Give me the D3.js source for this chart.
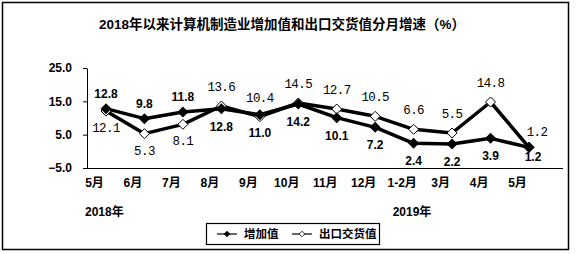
<!DOCTYPE html>
<html><head><meta charset="utf-8">
<script src="https://cdn.jsdelivr.net/npm/d3@7"></script>
<style>
html,body{margin:0;padding:0;background:#fff;}
svg{display:block;}
</style></head>
<body>
<script>
const title = "2018年以来计算机制造业增加值和出口交货值分月增速（%）";
const categories = ["5月","6月","7月","8月","9月","10月","11月","12月","1-2月","3月","4月","5月"];
const yearLabels = [{cat:0, text:"2018年"}, {cat:8, text:"2019年"}];
const addedValue = [12.8, 9.8, 11.8, 12.8, 11.0, 14.2, 10.1, 7.2, 2.4, 2.2, 3.9, 1.2];
const exportValue = [12.1, 5.3, 8.1, 13.6, 10.4, 14.5, 12.7, 10.5, 6.6, 5.5, 14.8, 1.2];
const addedLabelSide = ["above","above","above","below","below","below","below","below","below","below","below","below"];
const exportLabelSide = ["below","below","below","above","above","above","above","above","above","above","above","above"];
const yTicks = [-5, 5, 15, 25];
const seriesNames = ["增加值", "出口交货值"];

const W = 576, H = 254;
const svg = d3.select("body").append("svg").attr("width", W).attr("height", H);

// outer frame
svg.append("rect").attr("x", 2.5).attr("y", 2.5).attr("width", 566).attr("height", 247)
  .attr("fill", "#fff").attr("stroke", "#000").attr("stroke-width", 1.5);

const sansBold = "'Liberation Sans','Noto Sans CJK SC',Arial,sans-serif";

svg.append("text").attr("x", 282).attr("y", 24).attr("text-anchor", "middle")
  .attr("dominant-baseline", "central")
  .attr("font-family", sansBold).attr("font-weight", "bold").attr("font-size", 13.5)
  .text(title);

const axisX0 = 87, axisX1 = 563;
const y = d3.scaleLinear().domain([-5, 25]).range([168, 68]);
const x = d3.scalePoint().domain(d3.range(categories.length)).range([106, 529]);

// y axis
const yAxis = svg.append("g").attr("transform", `translate(${axisX0},0)`)
  .call(d3.axisLeft(y).tickValues(yTicks).tickSize(4).tickPadding(11).tickFormat(d3.format(".1f")).tickSizeOuter(0));
yAxis.select(".domain").attr("stroke", "#000").attr("stroke-width", 1);
yAxis.selectAll("text").attr("font-family", sansBold).attr("font-weight", "bold").attr("font-size", 12).attr("fill", "#000");

// x axis
const xAxis = svg.append("g").attr("transform", `translate(0,168)`)
  .call(d3.axisBottom(x).tickSize(0).tickPadding(10).tickFormat(i => categories[i]));
xAxis.select(".domain").remove();
xAxis.selectAll("text").attr("dx", -12).attr("font-family", sansBold).attr("font-weight", "bold").attr("font-size", 12).attr("fill", "#000");
svg.append("line").attr("x1", axisX0).attr("x2", axisX1).attr("y1", 168.5).attr("y2", 168.5)
  .attr("stroke", "#000").attr("stroke-width", 1.2);

// year labels
svg.selectAll(".yr").data(yearLabels).enter().append("text")
  .attr("x", d => x(d.cat) - 21).attr("y", 212).attr("dominant-baseline", "central")
  .attr("font-family", sansBold).attr("font-weight", "bold").attr("font-size", 12)
  .text(d => d.text);

const line = d3.line().x((d, i) => x(i)).y(d => y(d));
const diamond = (cx, cy, r) => `M${cx},${cy - r}L${cx + r},${cy}L${cx},${cy + r}L${cx - r},${cy}Z`;

// lines
svg.append("path").datum(exportValue).attr("d", line).attr("fill", "none")
  .attr("stroke", "#000").attr("stroke-width", 3.5).attr("stroke-linejoin", "round");
svg.append("path").datum(addedValue).attr("d", line).attr("fill", "none")
  .attr("stroke", "#000").attr("stroke-width", 3.5).attr("stroke-linejoin", "round");

// markers
svg.selectAll(".mo").data(exportValue).enter().append("path")
  .attr("d", (d, i) => diamond(x(i), y(d), 5)).attr("fill", "#fff").attr("stroke", "#000").attr("stroke-width", 1);
svg.selectAll(".mf").data(addedValue).enter().append("path")
  .attr("d", (d, i) => diamond(x(i), y(d), 5.5)).attr("fill", "#000");

// labels
svg.selectAll(".la").data(addedValue).enter().append("text")
  .attr("x", (d, i) => x(i) + (i === 11 ? 4 : 0))
  .attr("y", (d, i) => y(d) + (addedLabelSide[i] === "above" ? -15 : (i === 11 ? 10 : 18)))
  .attr("text-anchor", "middle").attr("dominant-baseline", "central")
  .attr("font-family", sansBold).attr("font-weight", "bold").attr("font-size", 12)
  .text(d => d.toFixed(1));
svg.selectAll(".le").data(exportValue).enter().append("text")
  .attr("x", (d, i) => x(i) + (i === 11 ? 8 : 0))
  .attr("y", (d, i) => y(d) + (exportLabelSide[i] === "above" ? (i === 11 ? -14 : -18) : 18))
  .attr("text-anchor", "middle").attr("dominant-baseline", "central")
  .attr("font-family", "'Liberation Mono','DejaVu Sans Mono',monospace").attr("font-size", 12.5)
  .attr("letter-spacing", -0.6)
  .text(d => d.toFixed(1));

// legend
const lg = svg.append("g");
lg.append("rect").attr("x", 206.5).attr("y", 223.5).attr("width", 173).attr("height", 21)
  .attr("fill", "#fff").attr("stroke", "#000").attr("stroke-width", 1.2);
const ly = 234;
const legendItems = [{x0: 217, tx: 244, filled: true}, {x0: 292, tx: 319, filled: false}];
legendItems.forEach((it, k) => {
  lg.append("line").attr("x1", it.x0).attr("x2", it.x0 + 20).attr("y1", ly).attr("y2", ly)
    .attr("stroke", "#000").attr("stroke-width", 1.2);
  lg.append("path").attr("d", diamond(it.x0 + 10, ly, 2.8))
    .attr("fill", it.filled ? "#000" : "#fff").attr("stroke", "#000").attr("stroke-width", 0.8);
  lg.append("text").attr("x", it.tx).attr("y", ly).attr("dominant-baseline", "central")
    .attr("font-family", sansBold).attr("font-weight", "bold").attr("font-size", 11.5)
    .text(seriesNames[k]);
});
</script>
</body></html>
